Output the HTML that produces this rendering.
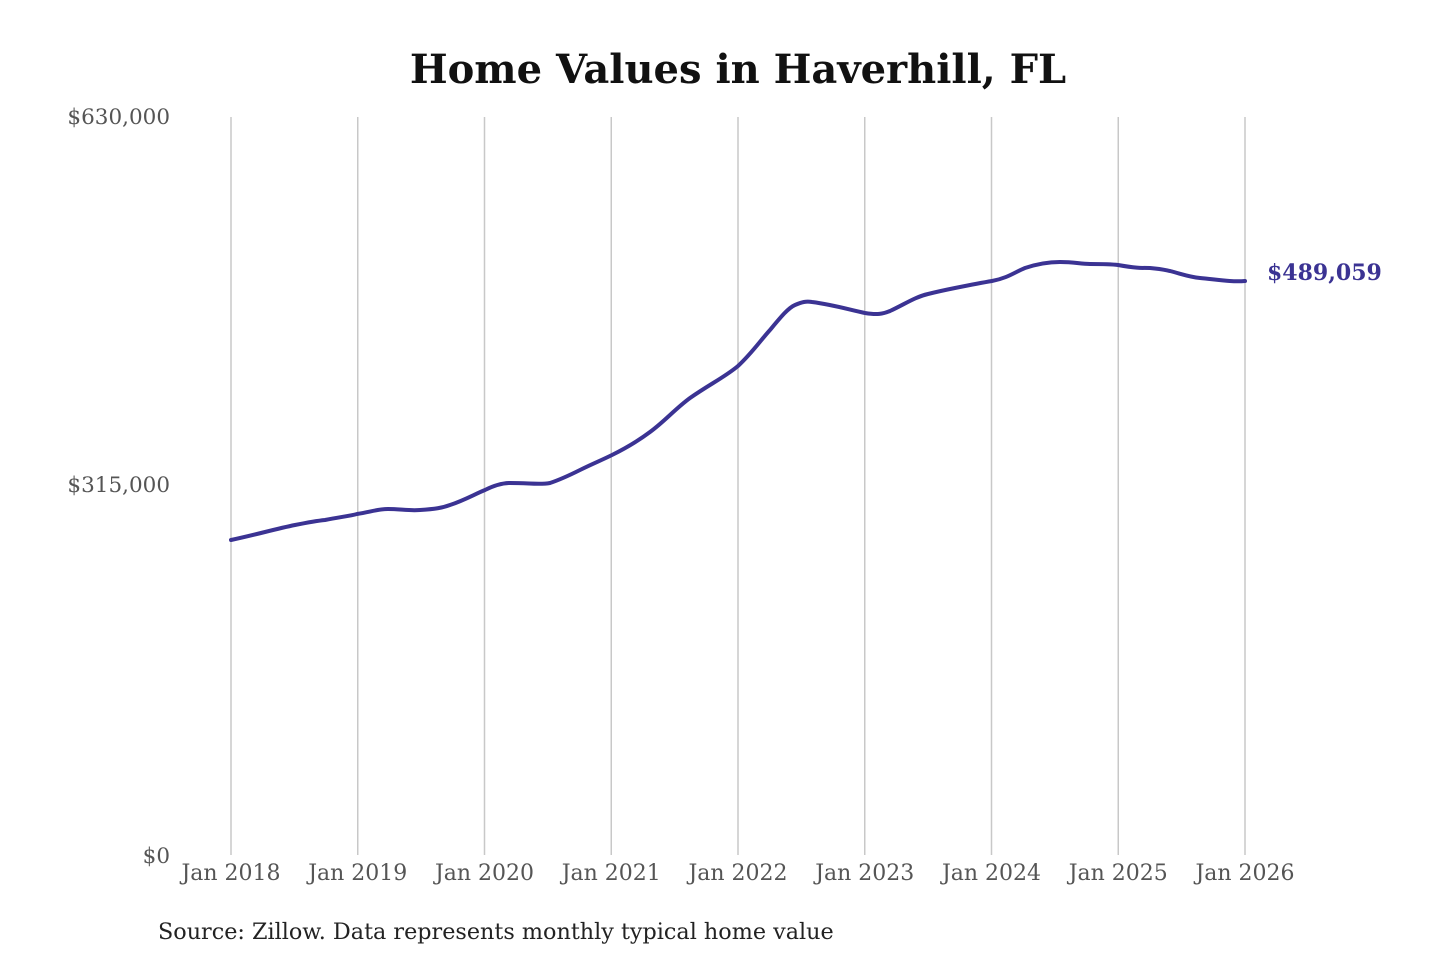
<!DOCTYPE html>
<html><head><meta charset="utf-8"><style>
body{margin:0;background:#fff;width:1440px;height:960px;overflow:hidden}
</style></head><body>
<svg width="1440" height="960" xmlns="http://www.w3.org/2000/svg" font-family="DejaVu Serif, Liberation Serif, serif">
<rect width="1440" height="960" fill="#fff"/>
<text x="738" y="83" text-anchor="middle" font-size="40" font-weight="bold" fill="#111">Home Values in Haverhill, FL</text>
<g stroke="#c8c8c8" stroke-width="1.5">
<line x1="231" y1="117" x2="231" y2="855"/><line x1="357.75" y1="117" x2="357.75" y2="855"/>
<line x1="484.5" y1="117" x2="484.5" y2="855"/><line x1="611.25" y1="117" x2="611.25" y2="855"/>
<line x1="738" y1="117" x2="738" y2="855"/><line x1="864.75" y1="117" x2="864.75" y2="855"/>
<line x1="991.5" y1="117" x2="991.5" y2="855"/><line x1="1118.25" y1="117" x2="1118.25" y2="855"/>
<line x1="1245" y1="117" x2="1245" y2="855"/>
</g>
<g font-size="21.5" fill="#555" text-anchor="end">
<text x="170" y="124">$630,000</text><text x="170" y="492">$315,000</text><text x="170" y="863">$0</text>
</g>
<g font-size="22" fill="#555" text-anchor="middle">
<text x="231" y="880">Jan 2018</text><text x="357.75" y="880">Jan 2019</text><text x="484.5" y="880">Jan 2020</text>
<text x="611.25" y="880">Jan 2021</text><text x="738" y="880">Jan 2022</text><text x="864.75" y="880">Jan 2023</text>
<text x="991.5" y="880">Jan 2024</text><text x="1118.25" y="880">Jan 2025</text><text x="1245" y="880">Jan 2026</text>
</g>
<path fill="none" stroke="#3b3393" stroke-width="4" stroke-linejoin="round" stroke-linecap="round"
d="M231,540 C255,535 275,529 295,525 S325,520 325,520 C340,517 350,516 357,514 C370,512 378,509 388,509 C400,509 410,511 420,510 C435,509 442,508 450,505 C465,500 475,494 485,490 C495,485 502,483 510,483 C530,483 540,485 550,483 C562,479 570,475 580,470 C592,464 602,460 612,455 C628,447 638,441 650,432 C665,421 675,409 690,398 C710,384 725,377 738,366 C752,353 760,341 770,330 C780,318 788,308 795,305 C802,302 806,301 812,302 C835,305 850,310 865,313 C877,315 883,314 890,311 C905,304 915,297 928,294 C940,291 945,290 955,288 C970,285 980,283 992,281 C1008,278 1015,272 1025,268 C1040,263 1050,262 1060,262 C1075,262 1080,264 1090,264 C1105,264 1110,264 1118,265 C1135,268 1140,268 1150,268 C1162,269 1165,270 1170,271 C1185,275 1190,277 1200,278 C1220,280 1232,282 1245,281"/>
<text x="1267" y="280" font-size="22" font-weight="bold" fill="#3b3393">$489,059</text>
<text x="158" y="939" font-size="22.3" fill="#222">Source: Zillow. Data represents monthly typical home value</text>
</svg>
</body></html>
